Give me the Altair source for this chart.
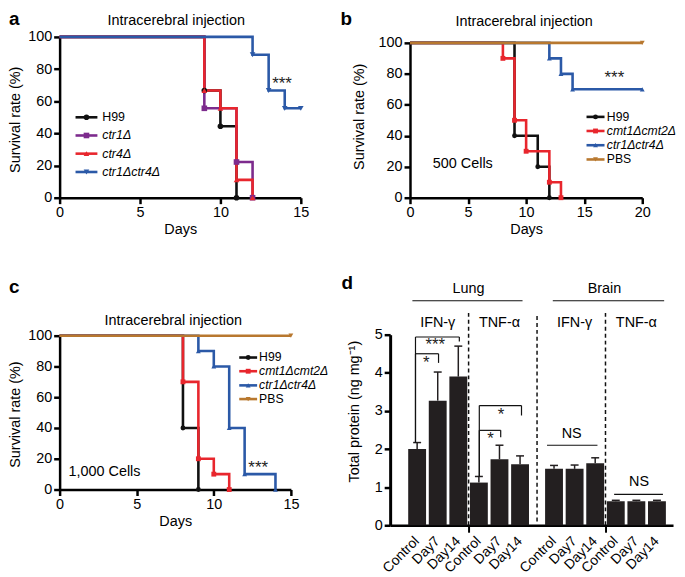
import altair as alt
import pandas as pd
import numpy as np

FONT = "Liberation Sans"
INK = "#111111"

# ---------------- panel a ----------------
a_names = ["H99", "ctr1Δ", "ctr4Δ", "ctr1Δctr4Δ"]
a_colors = ["#111111", "#7d2b8d", "#e8262d", "#2b59a7"]
a_shapes = ["circle", "square", "triangle-up", "triangle-down"]
a_italic = [False, True, True, True]
a_days = [[0, 9, 10, 11], [0, 9, 11, 12], [0, 9, 10, 11, 12], [0, 12, 13, 14, 15]]
a_surv = [[100, 66.7, 44.4, 0], [100, 55.6, 22.2, 0],
          [100, 66.7, 55.6, 11.1, 0], [100, 88.9, 66.7, 55.6, 55.6]]

# ---------------- panel b ----------------
b_names = ["H99", "cmt1Δcmt2Δ", "ctr1Δctr4Δ", "PBS"]
b_colors = ["#111111", "#e8262d", "#2b59a7", "#b8782f"]
b_shapes = ["circle", "square", "triangle-up", "triangle-down"]
b_italic = [False, True, True, False]
b_days = [[0, 9, 11, 12], [0, 8, 9, 10, 12, 13], [0, 12, 13, 14, 20], [0, 20]]
b_surv = [[100, 40, 20, 0], [100, 90, 50, 30, 10, 0], [100, 90, 80, 70, 70], [100, 100]]

# ---------------- panel c ----------------
c_days = [[0, 8, 9], [0, 8, 9, 10, 11], [0, 9, 10, 11, 12, 14], [0, 15]]
c_surv = [[100, 40, 0], [100, 70, 20, 10, 0], [100, 90, 80, 40, 10, 0], [100, 100]]

# ---------------- panel d ----------------
d_tissues = ["Lung", "Brain"]
d_cytokines = ["IFN-γ", "TNF-α", "IFN-γ", "TNF-α"]
d_times = ["Control", "Day7", "Day14"]
d_means = [[2.00, 3.27, 3.90], [1.12, 1.73, 1.60], [1.48, 1.48, 1.63], [0.63, 0.63, 0.63]]
d_upper = [[2.17, 4.02, 4.70], [1.28, 2.10, 1.82], [1.57, 1.58, 1.77], [0.655, 0.655, 0.655]]
# significance brackets (x from, x to, height, left-leg end, right-leg end) and labels
brk_x1 = [-0.08, -0.08, 3.02, 3.02]
brk_x2 = [2.05, 1.04, 5.07, 4.06]
brk_y = [4.94, 4.50, 3.14, 2.49]
brk_l = [2.17, 2.17, 1.28, 1.28]
brk_r = [4.82, 4.26, 2.88, 2.31]
star_x = [0.88, 0.44, 4.08, 3.57]
star_y = [4.72, 4.25, 2.90, 2.26]
star_t = ["***", "*", "*", "*"]
ns_x1 = [6.31, 9.57]
ns_x2 = [8.76, 11.94]
ns_y = [2.10, 0.81]
ns_tx = [7.51, 10.78]
ns_ty = [2.40, 1.13]
hdr_x1 = [-0.23, 6.59]
hdr_x2 = [5.12, 12.0]

AX = dict(domainColor="black", domainWidth=2.5, tickColor="black", tickWidth=2.5, tickSize=6,
          labelFont=FONT, labelFontSize=14.5, labelColor="black", labelPadding=2,
          titleFont=FONT, titleFontSize=14.5, titleFontWeight="normal", titleColor="black",
          grid=False)


def survival_panel(names, colors, shapes, italic, days, surv, xmax, xticks, width, height,
                   xrange, yrange, yoffset, ytitle_x, ytitle_y,
                   leg_y, leg_x1, leg_x2, leg_tx, leg_font, mk_size,
                   star_xy, cells_text, cells_xy, title_xy, letter, letter_xy, letter_baseline):
    sx = dict(domain=[0, xmax], nice=False, zero=False)
    if xrange:
        sx["range"] = xrange
    sy = dict(domain=[0, 100], nice=False)
    if yrange:
        sy["range"] = yrange
    xscale = alt.Scale(**sx)
    yscale = alt.Scale(**sy)
    xaxis = alt.Axis(values=xticks, title="Days", labelFlush=False, titlePadding=4, **AX)
    yk = dict(values=[0, 20, 40, 60, 80, 100], title="Survival rate (%)",
              titleX=ytitle_x, titleY=ytitle_y, **AX)
    if yoffset:
        yk["offset"] = yoffset
    yaxis = alt.Axis(**yk)

    def X(f):
        return alt.X(f"{f}:Q", scale=xscale, axis=xaxis)

    def Y(f):
        return alt.Y(f"{f}:Q", scale=yscale, axis=yaxis)

    lines, points = [], []
    for i in range(len(names)):
        df = pd.DataFrame({"day": days[i], "surv": surv[i]})
        base = alt.Chart(df).encode(x=X("day"), y=Y("surv"))
        lines.append(base.mark_line(interpolate="step-after", color=colors[i], strokeWidth=2.6))
        points.append(base.transform_filter("datum.day > 0").mark_point(
            filled=True, shape=shapes[i], size=mk_size, color=colors[i], opacity=1))

    leg = pd.DataFrame({"name": names, "italic": italic, "surv": leg_y,
                        "col": colors, "shp": shapes,
                        "day1": leg_x1, "day2": leg_x2,
                        "day": (leg_x1 + leg_x2) / 2, "tday": leg_tx})
    ccol = alt.Color("col:N", scale=None)
    cshp = alt.Shape("shp:N", scale=None)
    lb = alt.Chart(leg)
    leg_layers = [
        lb.mark_rule(strokeWidth=2.6).encode(x=X("day1"), x2="day2:Q", y=Y("surv"), color=ccol),
        lb.mark_point(filled=True, size=mk_size, opacity=1).encode(
            x=X("day"), y=Y("surv"), color=ccol, shape=cshp),
        lb.transform_filter("!datum.italic").mark_text(
            align="left", baseline="middle", font=FONT, fontSize=leg_font, color="black").encode(
            x=X("tday"), y=Y("surv"), text="name:N"),
        lb.transform_filter("datum.italic").mark_text(
            align="left", baseline="middle", font=FONT, fontSize=leg_font, fontStyle="italic",
            color="black").encode(x=X("tday"), y=Y("surv"), text="name:N"),
    ]

    ann = []
    sdf = pd.DataFrame({"day": [star_xy[0]], "surv": [star_xy[1]], "t": ["***"]})
    ann.append(alt.Chart(sdf).mark_text(font=FONT, fontSize=17, baseline="middle", color="#222").encode(
        x=X("day"), y=Y("surv"), text="t:N"))
    if cells_text:
        cdf = pd.DataFrame({"day": [cells_xy[0]], "surv": [cells_xy[1]], "t": [cells_text]})
        ann.append(alt.Chart(cdf).mark_text(font=FONT, fontSize=14.5, align="left",
                                            baseline="alphabetic", color="black").encode(
            x=X("day"), y=Y("surv"), text="t:N"))
    tdf = pd.DataFrame({"t": ["Intracerebral injection"]})
    ann.append(alt.Chart(tdf).mark_text(font=FONT, fontSize=14.5, align="center",
                                        baseline="alphabetic", color="black").encode(
        x=alt.value(title_xy[0]), y=alt.value(title_xy[1]), text="t:N"))
    ldf = pd.DataFrame({"t": [letter]})
    ann.append(alt.Chart(ldf).mark_text(font=FONT, fontSize=19, fontWeight="bold", align="left",
                                        baseline=letter_baseline, color="black").encode(
        x=alt.value(letter_xy[0]), y=alt.value(letter_xy[1]), text="t:N"))

    return alt.layer(*lines, *points, *leg_layers, *ann).properties(width=width, height=height)


pa = survival_panel(a_names, a_colors, a_shapes, a_italic, a_days, a_surv, 15, [0, 5, 10, 15],
                    243, 162, None, None, 0, -37, 83,
                    [50.0, 38.7, 27.4, 16.0], np.array([0.99] * 4), np.array([2.35] * 4),
                    [2.65] * 4, 12.5, 32,
                    (13.83, 70.4), None, None, (117.5, -11.5), "a", (-51, -27), "top")

pb = survival_panel(b_names, b_colors, b_shapes, b_italic, b_days, b_surv, 20, [0, 5, 10, 15, 20],
                    254, 162, [20, 254], [162, 6], -20, -44, 80,
                    [52.2, 43.1, 33.9, 24.7], np.array([15.2] * 4), np.array([16.75] * 4),
                    [16.95] * 4, 12.3, 24,
                    (17.6, 77.6), "500 Cells", (1.97, 19.2), (135, -10.5), "b", (-50, -27), "top")

pc = survival_panel(b_names, b_colors, b_shapes, b_italic, c_days, c_surv, 15, [0, 5, 10, 15],
                    233, 156, None, [156, 1], 0, -37, 80,
                    [85.8, 76.9, 67.7, 58.8], np.array([11.65] * 4), np.array([12.81] * 4),
                    [12.94] * 4, 12.3, 24,
                    (12.88, 14.2), "1,000 Cells", (0.58, 9.0), (114.5, -10), "c", (-51, -42), "alphabetic")

# ---------------- panel d build ----------------
GAP = 0.65
rows = []
for g in range(4):
    for i, t in enumerate(d_times):
        rows.append(dict(pos=g * 3 + i + (GAP if g >= 2 else 0), mean=d_means[g][i],
                         up=d_upper[g][i], time=t))
bars = pd.DataFrame(rows)
pos = bars["pos"].tolist()
seps = [(pos[2] + pos[3]) / 2, (pos[5] + pos[6]) / 2, (pos[8] + pos[9]) / 2]
centers = [pos[1], pos[4], pos[7], pos[10]]

dxs = alt.Scale(domain=[-1.07, 12.19], nice=False, zero=False)
dys = alt.Scale(domain=[0, 5], nice=False)
dxa = alt.Axis(values=[seps[0], seps[2]], labels=False, title=None, **{**AX, "tickSize": 7, "tickWidth": 2})
dya = alt.Axis(values=[0, 1, 2, 3, 4, 5], title="Total protein (ng mg⁻¹)", titleX=-28.5, titleY=77,
               **{**AX, "domainWidth": 3})


def DX(f):
    return alt.X(f"{f}:Q", scale=dxs, axis=dxa)


def DY(f):
    return alt.Y(f"{f}:Q", scale=dys, axis=dya)


BAR = "#231f20"
bb = alt.Chart(bars)
d_layers = [
    bb.mark_rule(color=BAR, strokeWidth=1.5).encode(x=DX("pos"), y=DY("mean"), y2="up:Q"),
    bb.mark_bar(size=18, color=BAR).encode(x=DX("pos"), y=DY("mean"), y2=alt.datum(0)),
    bb.mark_tick(orient="horizontal", size=8, thickness=1.5, color=BAR, opacity=1).encode(
        x=DX("pos"), y=DY("up")),
    bb.mark_text(angle=315, align="right", baseline="middle", font=FONT, fontSize=14,
                 color="black").encode(x=DX("pos"), y=alt.value(206), text="time:N"),
]
sep_df = pd.DataFrame({"pos": seps, "y1": [0, 0.1, 0], "y2": [5.57, 5.5, 5.57]})
d_layers.append(alt.Chart(sep_df).mark_rule(strokeDash=[4, 3], strokeWidth=1.5, color=INK).encode(
    x=DX("pos"), y=DY("y1"), y2="y2:Q"))
bk = pd.DataFrame({"x1": brk_x1, "x2": brk_x2, "y": brk_y, "l": brk_l, "r": brk_r})
bkc = alt.Chart(bk)
d_layers += [
    bkc.mark_rule(strokeWidth=1.2, color=INK).encode(x=DX("x1"), x2="x2:Q", y=DY("y")),
    bkc.mark_rule(strokeWidth=1.2, color=INK).encode(x=DX("x1"), y=DY("y"), y2="l:Q"),
    bkc.mark_rule(strokeWidth=1.2, color=INK).encode(x=DX("x2"), y=DY("y"), y2="r:Q"),
]
st = pd.DataFrame({"x": star_x, "y": star_y, "t": star_t})
d_layers.append(alt.Chart(st).mark_text(font=FONT, fontSize=17, baseline="middle", color="#222").encode(
    x=DX("x"), y=DY("y"), text="t:N"))
ns = pd.DataFrame({"x1": ns_x1, "x2": ns_x2, "y": ns_y, "tx": ns_tx, "ty": ns_ty, "t": ["NS", "NS"]})
nsc = alt.Chart(ns)
d_layers += [
    nsc.mark_rule(strokeWidth=1.2, color=INK).encode(x=DX("x1"), x2="x2:Q", y=DY("y")),
    nsc.mark_text(font=FONT, fontSize=14.5, baseline="middle", color="black").encode(
        x=DX("tx"), y=DY("ty"), text="t:N"),
]
hd = pd.DataFrame({"x1": hdr_x1, "x2": hdr_x2, "tx": [(pos[0] + pos[5]) / 2, (pos[6] + pos[11]) / 2 - 0.05],
                   "y": [5.89, 5.89], "ty": [6.09, 6.09], "t": d_tissues})
hdc = alt.Chart(hd)
d_layers += [
    hdc.mark_rule(strokeWidth=1.2, color=INK).encode(x=DX("x1"), x2="x2:Q", y=DY("y")),
    hdc.mark_text(font=FONT, fontSize=14.5, baseline="alphabetic", color="black").encode(
        x=DX("tx"), y=DY("ty"), text="t:N"),
]
cy = pd.DataFrame({"x": centers, "y": [5.21] * 4, "t": d_cytokines})
d_layers.append(alt.Chart(cy).mark_text(font=FONT, fontSize=14.5, baseline="alphabetic",
                                        color="black").encode(x=DX("x"), y=DY("y"), text="t:N"))
d_layers.append(alt.Chart(pd.DataFrame({"t": ["d"]})).mark_text(
    font=FONT, fontSize=19, fontWeight="bold", align="left", baseline="alphabetic",
    color="black").encode(x=alt.value(-49), y=alt.value(-46), text="t:N"))
pd_chart = alt.layer(*d_layers).properties(width=285, height=192)

chart = alt.concat(pa, pb, pc, pd_chart, columns=2, spacing={"row": 138, "column": 90},
                   bounds="flush", align="each").properties(
    padding=0, background="white").configure_view(stroke=None)

chart.save("out.html", embed_options={"renderer": "svg", "actions": False})
